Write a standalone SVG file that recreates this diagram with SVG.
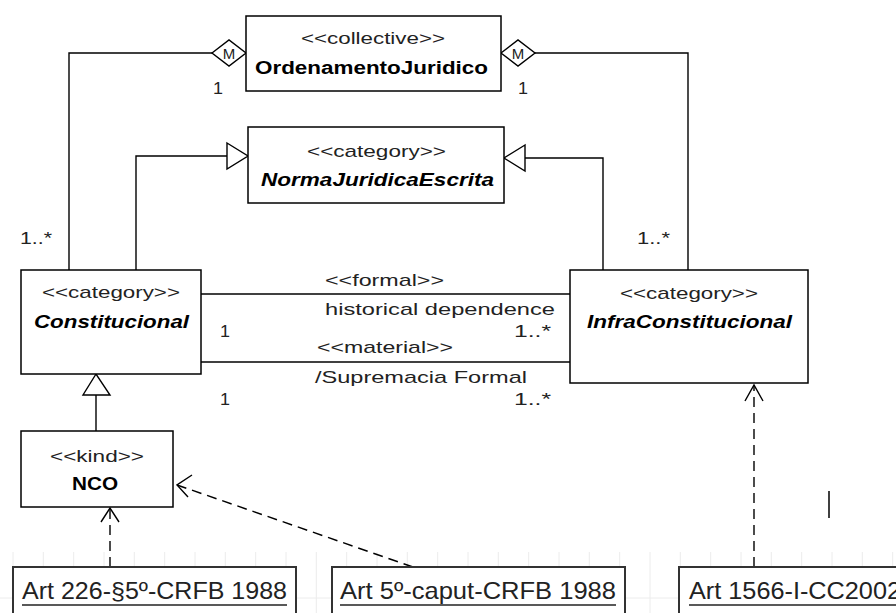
<svg xmlns="http://www.w3.org/2000/svg" width="896" height="613" viewBox="0 0 896 613">
<style>
.box{fill:#fff;stroke:#000;stroke-width:1.5}
.obj{fill:#fff;stroke:#333;stroke-width:2}
.st{font-family:"Liberation Sans",Arial,sans-serif;font-size:17px;fill:#222}
.nm{font-family:"Liberation Sans",Arial,sans-serif;font-size:18px;font-weight:bold;fill:#000}
.it{font-style:italic}
.lb{font-family:"Liberation Sans",Arial,sans-serif;font-size:17px;fill:#222}
.ob{font-family:"Liberation Sans",Arial,sans-serif;font-size:24px;fill:#222}
.ln{fill:none;stroke:#000;stroke-width:1.4}
.dash{fill:none;stroke:#000;stroke-width:1.4;stroke-dasharray:10,6}
.head{fill:none;stroke:#000;stroke-width:1.4}
.tri{fill:#fff;stroke:#000;stroke-width:1.4}
.grid{stroke:#ececec;stroke-width:1}
</style>
<g id="grid">
<path class="grid" d="M13 552V613M43.3 552V613M73.7 552V613M104 552V613M134.3 552V613M164.7 552V613M195 552V613M225.3 552V613M255.7 552V613M286 552V613M316.3 552V613M346.7 552V613M377 552V613M407.3 552V613M437.7 552V613M468 552V613M498.3 552V613M528.7 552V613M559 552V613M589.3 552V613M619.7 552V613M650 552V613M680.3 552V613M710.7 552V613M741 552V613M771.3 552V613M801.7 552V613M832 552V613M862.3 552V613M892.7 552V613M0 598H896"/>
</g>
<g id="connectors">
<polyline class="ln" points="212,53 69,53 69,270"/>
<polygon class="tri" points="212,53 229,40 246,53 229,66"/>
<text class="lb" x="229" y="59" text-anchor="middle" style="font-size:15px">M</text>
<polyline class="ln" points="535,53 688,53 688,270"/>
<polygon class="tri" points="501,53 518,40 535,53 518,66"/>
<text class="lb" x="518" y="59" text-anchor="middle" style="font-size:15px">M</text>
<text class="lb" x="213" y="94" textLength="10" lengthAdjust="spacingAndGlyphs">1</text>
<text class="lb" x="518" y="94" textLength="10" lengthAdjust="spacingAndGlyphs">1</text>
<text class="lb" x="20" y="244" textLength="32" lengthAdjust="spacingAndGlyphs">1..*</text>
<text class="lb" x="637" y="244" textLength="33" lengthAdjust="spacingAndGlyphs">1..*</text>
<polyline class="ln" points="136,270 136,156 227,156"/>
<polygon class="tri" points="227,143 248,156 227,169"/>
<polyline class="ln" points="603,270 603,158 525,158"/>
<polygon class="tri" points="525,145 504,158 525,171"/>
<line class="ln" x1="201" y1="294" x2="570" y2="294"/>
<line class="ln" x1="201" y1="362" x2="570" y2="362"/>
<text class="lb" x="325" y="286" textLength="119" lengthAdjust="spacingAndGlyphs">&lt;&lt;formal&gt;&gt;</text>
<text class="lb" x="325" y="315" textLength="230" lengthAdjust="spacingAndGlyphs">historical dependence</text>
<text class="lb" x="220" y="337" textLength="10" lengthAdjust="spacingAndGlyphs">1</text>
<text class="lb" x="514" y="337" textLength="37" lengthAdjust="spacingAndGlyphs">1..*</text>
<text class="lb" x="317" y="353" textLength="136" lengthAdjust="spacingAndGlyphs">&lt;&lt;material&gt;&gt;</text>
<text class="lb" x="315" y="383" textLength="212" lengthAdjust="spacingAndGlyphs">/Supremacia Formal</text>
<text class="lb" x="220" y="405" textLength="10" lengthAdjust="spacingAndGlyphs">1</text>
<text class="lb" x="514" y="405" textLength="37" lengthAdjust="spacingAndGlyphs">1..*</text>
<line class="ln" x1="96" y1="395" x2="96" y2="431"/>
<polygon class="tri" points="96,374 83,395 110,395"/>
<line class="dash" x1="110" y1="567" x2="110" y2="508"/>
<polyline class="head" points="101,522 110,508 119,522"/>
<line class="dash" x1="413" y1="567" x2="177" y2="485"/>
<polyline class="head" points="192,475 177,485 188,497"/>
<line class="dash" x1="754" y1="567" x2="754" y2="385"/>
<polyline class="head" points="745,401 754,385 763,401"/>
</g>
<g id="OrdenamentoJuridico">
<rect class="box" x="246" y="16" width="255" height="75"/>
<text class="st" x="301" y="44" textLength="144" lengthAdjust="spacingAndGlyphs">&lt;&lt;collective&gt;&gt;</text>
<text class="nm" x="255" y="74" textLength="233" lengthAdjust="spacingAndGlyphs">OrdenamentoJuridico</text>
</g>
<g id="NormaJuridicaEscrita">
<rect class="box" x="248" y="127" width="256" height="76"/>
<text class="st" x="307" y="157" textLength="139" lengthAdjust="spacingAndGlyphs">&lt;&lt;category&gt;&gt;</text>
<text class="nm it" x="261" y="186" textLength="233" lengthAdjust="spacingAndGlyphs">NormaJuridicaEscrita</text>
</g>
<g id="Constitucional">
<rect class="box" x="21" y="270" width="180" height="104"/>
<text class="st" x="42" y="298" textLength="138" lengthAdjust="spacingAndGlyphs">&lt;&lt;category&gt;&gt;</text>
<text class="nm it" x="34" y="328" textLength="155" lengthAdjust="spacingAndGlyphs">Constitucional</text>
</g>
<g id="InfraConstitucional">
<rect class="box" x="570" y="270" width="238" height="113"/>
<text class="st" x="620" y="299" textLength="138" lengthAdjust="spacingAndGlyphs">&lt;&lt;category&gt;&gt;</text>
<text class="nm it" x="587" y="328" textLength="205" lengthAdjust="spacingAndGlyphs">InfraConstitucional</text>
</g>
<g id="NCO">
<rect class="box" x="21" y="431" width="152" height="76"/>
<text class="st" x="50" y="462" textLength="94" lengthAdjust="spacingAndGlyphs">&lt;&lt;kind&gt;&gt;</text>
<text class="nm" x="72" y="490" textLength="46" lengthAdjust="spacingAndGlyphs">NCO</text>
</g>
<g id="Art226">
<rect class="obj" x="13" y="567" width="283" height="60"/>
<text class="ob" x="22" y="599" textLength="265" lengthAdjust="spacingAndGlyphs">Art 226-§5º-CRFB 1988</text>
<line x1="22" y1="605" x2="287" y2="605" stroke="#222" stroke-width="1.6"/>
</g>
<g id="Art5">
<rect class="obj" x="332" y="567" width="293" height="60"/>
<text class="ob" x="340" y="599" textLength="276" lengthAdjust="spacingAndGlyphs">Art 5º-caput-CRFB 1988</text>
<line x1="340" y1="605" x2="616" y2="605" stroke="#222" stroke-width="1.6"/>
</g>
<g id="Art1566">
<rect class="obj" x="679" y="567" width="240" height="60"/>
<text class="ob" x="689" y="599" textLength="212" lengthAdjust="spacingAndGlyphs">Art 1566-I-CC2002</text>
<line x1="689" y1="605" x2="901" y2="605" stroke="#222" stroke-width="1.6"/>
</g>
<line x1="829" y1="491" x2="829" y2="518" stroke="#000" stroke-width="1.5"/>
</svg>
